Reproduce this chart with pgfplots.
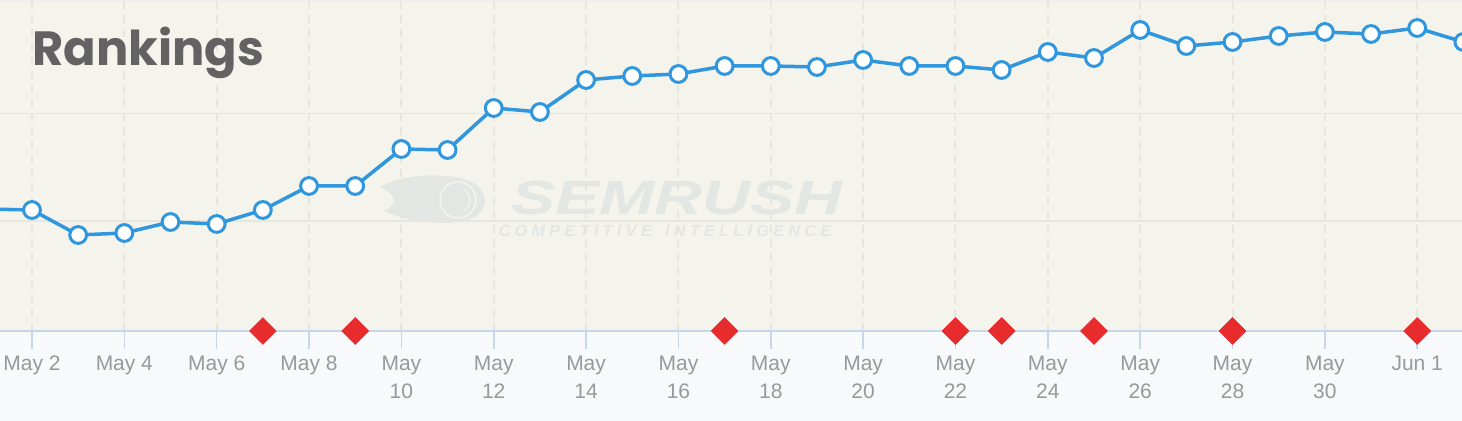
\documentclass[border=0pt]{standalone}
\usepackage{pgfplots}
\pgfplotsset{compat=1.18}
\usepackage{fontspec}
\setmainfont{Liberation Sans}
\newfontfamily\titlefont{Poppins}
\definecolor{bgtop}{HTML}{F4F3EC}
\definecolor{bgbot}{HTML}{F8F9FB}
\definecolor{gridc}{HTML}{E7E6DE}
\definecolor{axisc}{HTML}{C8D6EC}
\definecolor{lineblue}{HTML}{3097DE}
\definecolor{diamred}{HTML}{E82C2E}
\definecolor{tickc}{HTML}{999999}
\definecolor{titlec}{HTML}{626262}
\definecolor{wmark}{HTML}{E2E7E3}
\definecolor{topline}{HTML}{ECEEF0}
\begin{document}
\begin{tikzpicture}
\path[use as bounding box] (0,-45pt) rectangle (731pt,165.5pt);
\fill[bgtop] (0,0) rectangle (731pt,165.5pt);
\fill[bgbot] (0,-45pt) rectangle (731pt,0);
\draw[draw=topline, line width=1pt] (0,165pt) -- (731pt,165pt);
% watermark logo
\fill[wmark] (190pt,72pt) .. controls (205pt,80pt) and (225pt,78pt) .. (232pt,76pt)
  .. controls (246pt,72pt) and (246pt,58pt) .. (232pt,55pt)
  .. controls (222pt,53pt) and (205pt,54pt) .. (192pt,60pt)
  .. controls (200pt,64pt) and (198pt,68pt) .. cycle;
\draw[bgtop, line width=0.8pt] (229pt,65.5pt) circle (9pt);
\draw[bgtop, line width=0.6pt] (229pt,65.5pt) ++(60:6pt) arc (60:-60:6pt);
\node[text=wmark, font=\bfseries\itshape\fontsize{24}{24}\selectfont, xscale=1.38, inner sep=0] at (338.5pt,66.5pt) {SEMRUSH};
\node[text=wmark, font=\bfseries\itshape\fontsize{8}{8}\selectfont, xscale=1.0, inner sep=0] at (332.5pt,50pt) {C O M P E T I T I V E \ \ I N T E L L I G E N C E};
\begin{axis}[
  at={(0,0)}, anchor=south west,
  scale only axis, width=731pt, height=165.5pt,
  xmin=1.307, xmax=32.97, ymin=0, ymax=331,
  clip=false,
  axis x line*=bottom, axis y line*=left,
  y axis line style={draw=none},
  x axis line style={draw=axisc, line width=0.8pt},
  xtick={2,4,...,32},
  xticklabels={May 2,May 4,May 6,May 8,{May\\10},{May\\12},{May\\14},{May\\16},{May\\18},{May\\20},{May\\22},{May\\24},{May\\26},{May\\28},{May\\30},Jun 1},
  xticklabel style={align=center, text=tickc, font=\fontsize{10.5}{14}\selectfont, yshift=0pt},
  tick align=outside,
  major tick length=9pt,
  xtick style={draw=axisc, line width=0.8pt},
  ytick={110,217.5},
  yticklabels={},
  ytick style={draw=none},
  xmajorgrids, ymajorgrids,
  x grid style={draw=gridc, line width=1pt, dash pattern=on 4pt off 3pt},
  y grid style={draw=gridc, line width=0.9pt},
]
\addplot[lineblue, line width=1.75pt, mark=*, mark size=4.2pt,
  mark options={draw=lineblue, fill=white, line width=1.5pt}]
  coordinates {
  (1,122) (2,121) (3,96) (4,98) (5,109) (6,107) (7,121) (8,145) (9,145)
  (10,182) (11,181) (12,223) (13,219) (14,251) (15,255) (16,257) (17,265)
  (18,265) (19,264) (20,271) (21,265) (22,265) (23,261) (24,279) (25,273)
  (26,301) (27,285) (28,289) (29,295) (30,299) (31,297) (32,303) (33,289)
  };
\addplot[only marks, mark=square*, mark size=4.7pt,
  mark options={rotate=45, draw=diamred, fill=diamred}]
  coordinates {(7,0) (9,0) (17,0) (22,0) (23,0) (25,0) (28,0) (32,0)};
\end{axis}
\node[anchor=base west, text=titlec, font=\titlefont\bfseries\fontsize{24}{24}\selectfont, inner sep=0] at (16pt,132.5pt) {Rankings};
\end{tikzpicture}
\end{document}
